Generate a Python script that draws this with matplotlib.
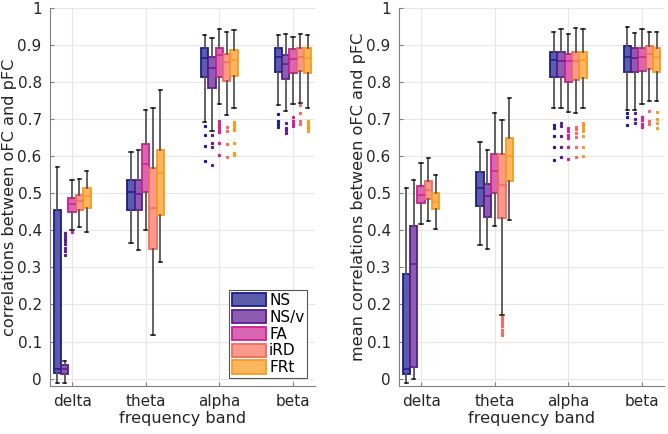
import matplotlib
matplotlib.use("Agg")
import matplotlib.pyplot as plt
from matplotlib.patches import Patch

bands = ["delta", "theta", "alpha", "beta"]
methods = ["NS", "NS/v", "FA", "iRD", "FRt"]
face_colors = ["#5c5cad", "#8b5cb0", "#d866b2", "#fb9a8c", "#fdb55e"]
edge_colors = ["#1c1c8c", "#5c1a90", "#cf2090", "#f46a5e", "#f99a20"]

# ---- left panel: correlations (rows = bands, columns = methods) ----
left_q1 = [[0.015, 0.013, 0.450, 0.455, 0.459],
           [0.455, 0.455, 0.503, 0.350, 0.441],
           [0.813, 0.785, 0.814, 0.802, 0.816],
           [0.828, 0.808, 0.825, 0.831, 0.825]]
left_med = [[0.026, 0.026, 0.471, 0.479, 0.493],
            [0.503, 0.499, 0.579, 0.460, 0.554],
            [0.864, 0.839, 0.872, 0.855, 0.860],
            [0.869, 0.848, 0.863, 0.867, 0.864]]
left_q3 = [[0.454, 0.037, 0.486, 0.495, 0.513],
           [0.535, 0.535, 0.633, 0.568, 0.616],
           [0.893, 0.869, 0.893, 0.875, 0.887],
           [0.893, 0.872, 0.890, 0.893, 0.893]]
left_lo = [[-0.012, -0.012, 0.402, 0.408, 0.395],
           [0.366, 0.348, 0.402, 0.117, 0.314],
           [0.693, 0.669, 0.741, 0.711, 0.730],
           [0.738, 0.722, 0.742, 0.743, 0.730]]
left_hi = [[0.572, 0.048, 0.535, 0.539, 0.560],
           [0.611, 0.616, 0.724, 0.731, 0.780],
           [0.926, 0.920, 0.944, 0.934, 0.940],
           [0.926, 0.929, 0.923, 0.929, 0.926]]
left_out = [[[], [0.393, 0.385, 0.378, 0.370, 0.362, 0.352, 0.343, 0.333], [0.395], [], []],
            [[], [], [], [], []],
            [[0.682, 0.658, 0.628, 0.586],
             [0.656, 0.637, 0.626, 0.575],
             [0.696, 0.687, 0.680, 0.671, 0.665, 0.637, 0.604],
             [0.680, 0.667, 0.633, 0.597],
             [0.692, 0.685, 0.677, 0.671, 0.637, 0.608, 0.602]],
            [[0.714, 0.694, 0.687, 0.680],
             [0.691, 0.676, 0.671, 0.662],
             [0.707, 0.694, 0.687, 0.682],
             [0.738, 0.716, 0.695, 0.687],
             [0.696, 0.689, 0.682, 0.676, 0.669]]]

# ---- right panel: mean correlations ----
right_q1 = [[0.013, 0.030, 0.474, 0.484, 0.457],
            [0.466, 0.437, 0.500, 0.432, 0.532],
            [0.813, 0.813, 0.801, 0.805, 0.810],
            [0.828, 0.826, 0.831, 0.836, 0.828]]
right_med = [[0.026, 0.309, 0.495, 0.510, 0.477],
             [0.515, 0.493, 0.561, 0.523, 0.600],
             [0.860, 0.858, 0.856, 0.858, 0.860],
             [0.869, 0.866, 0.869, 0.876, 0.867]]
right_q3 = [[0.282, 0.411, 0.521, 0.532, 0.500],
            [0.557, 0.525, 0.606, 0.606, 0.649],
            [0.881, 0.881, 0.875, 0.882, 0.882],
            [0.898, 0.893, 0.893, 0.898, 0.893]]
right_lo = [[-0.013, -0.001, 0.417, 0.426, 0.404],
            [0.360, 0.350, 0.412, 0.172, 0.428],
            [0.730, 0.730, 0.720, 0.717, 0.729],
            [0.725, 0.725, 0.740, 0.748, 0.749]]
right_hi = [[0.514, 0.536, 0.583, 0.594, 0.549],
            [0.638, 0.617, 0.717, 0.697, 0.758],
            [0.935, 0.943, 0.929, 0.945, 0.942],
            [0.950, 0.932, 0.943, 0.934, 0.936]]
right_out = [[[], [], [], [], []],
             [[], [], [], [0.166, 0.158, 0.150, 0.141, 0.132, 0.124, 0.118], []],
             [[0.684, 0.677, 0.655, 0.626, 0.590],
              [0.689, 0.682, 0.655, 0.624, 0.599],
              [0.676, 0.667, 0.658, 0.649, 0.626, 0.592],
              [0.680, 0.673, 0.664, 0.652, 0.624, 0.599],
              [0.691, 0.685, 0.676, 0.667, 0.655, 0.626, 0.600]],
             [[0.716, 0.705, 0.685],
              [0.716, 0.700, 0.691],
              [0.707, 0.698, 0.687, 0.678],
              [0.723, 0.695, 0.687],
              [0.718, 0.700, 0.691, 0.677]]]

ylabels = ["correlations between oFC and pFC", "mean correlations between oFC and pFC"]
xlabel = "frequency band"

plt.rcParams['font.family'] = ['DejaVu Sans']

fig = plt.figure(figsize=(6.68, 4.34), dpi=100)
ax_l = fig.add_axes([0.0749, 0.1106, 0.3967, 0.8710])
ax_r = fig.add_axes([0.5973, 0.1106, 0.3967, 0.8710])

offsets = [-0.2, -0.1, 0.0, 0.1, 0.2]
bw = 0.1

def draw(ax, q1, med, q3, lo, hi, out, ylabel, legend=False):
    for b in range(len(bands)):
        for m in range(len(methods)):
            st = dict(q1=q1[b][m], med=med[b][m], q3=q3[b][m],
                      whislo=lo[b][m], whishi=hi[b][m], fliers=out[b][m])
            ax.bxp([st], positions=[b + 1 + offsets[m]], widths=bw,
                   patch_artist=True, showfliers=True, capwidths=0.045,
                   boxprops=dict(facecolor=face_colors[m], edgecolor=edge_colors[m],
                                 linewidth=1.3),
                   medianprops=dict(color=edge_colors[m], linewidth=1.1),
                   whiskerprops=dict(color="#555555", linewidth=1.3),
                   capprops=dict(color="#111111", linewidth=1.1),
                   flierprops=dict(marker="s", markersize=1.3,
                                   markerfacecolor=edge_colors[m],
                                   markeredgecolor=edge_colors[m], linestyle="none"),
                   zorder=3)
    ax.set_xlim(0.7, 4.3)
    ax.set_ylim(-0.02, 1.0)
    ax.set_xticks(range(1, len(bands) + 1))
    ax.set_xticklabels(bands)
    ax.set_yticks([i / 10 for i in range(11)])
    ax.set_yticklabels(["0"] + ["0.%d" % i for i in range(1, 10)] + ["1"])
    ax.grid(True, color="#e6e6e6", linewidth=0.8, zorder=0)
    ax.set_axisbelow(True)
    for s in ["top", "right"]:
        ax.spines[s].set_visible(False)
    for s in ["left", "bottom"]:
        ax.spines[s].set_color("#808080")
        ax.spines[s].set_linewidth(0.8)
    ax.tick_params(direction="in", length=3, color="#808080", labelsize=11,
                   labelcolor="#262626", pad=6)
    ax.set_ylabel(ylabel, fontsize=11.6, color="#262626")
    ax.yaxis.set_label_coords(-0.125, 0.5)
    ax.set_xlabel(xlabel, fontsize=11.6, color="#262626", labelpad=1)
    if legend:
        handles = [Patch(facecolor=face_colors[i], edgecolor=edge_colors[i],
                         linewidth=1.3, label=methods[i]) for i in range(len(methods))]
        leg = ax.legend(handles=handles, loc="lower right", fontsize=11,
                        fancybox=False, framealpha=1, edgecolor="#555555",
                        handlelength=2.2, handleheight=0.95, handletextpad=0.2,
                        labelspacing=0.12, borderpad=0.2, borderaxespad=0.5)
        leg.get_frame().set_linewidth(0.8)

draw(ax_l, left_q1, left_med, left_q3, left_lo, left_hi, left_out, ylabels[0], legend=True)
draw(ax_r, right_q1, right_med, right_q3, right_lo, right_hi, right_out, ylabels[1])

fig.savefig("out.png", dpi=100)
